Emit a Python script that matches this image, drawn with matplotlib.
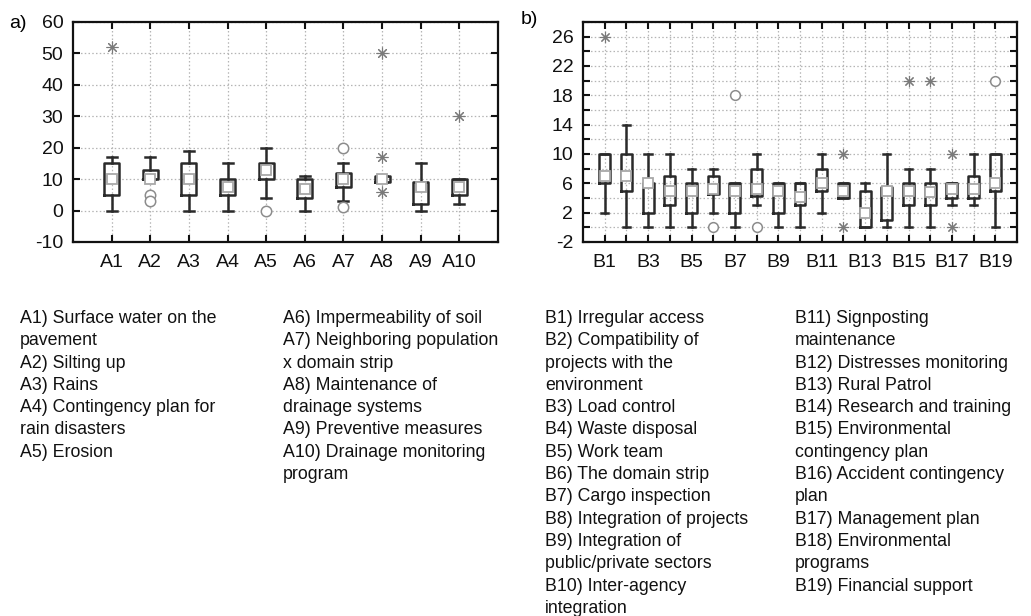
import matplotlib
matplotlib.use("Agg")
import matplotlib.pyplot as plt

plt.rcParams['font.family'] = ['Liberation Sans', 'DejaVu Sans']
plt.rcParams['axes.unicode_minus'] = False

W, H = 1031, 616

# ---------------- data: panel a ----------------
a_labels = ["A1", "A2", "A3", "A4", "A5", "A6", "A7", "A8", "A9", "A10"]
a_q1 = [5, 10, 5, 5, 10, 4, 7.5, 9, 2, 5]
a_med = [10, 10, 10, 7.5, 13, 7, 10, 10, 7.5, 7.5]
a_q3 = [15, 13, 15, 10, 15, 10, 12, 11, 9, 10]
a_wlo = [0, 10, 0, 0, 4, 0, 3, 9, 0, 2]
a_whi = [17, 17, 19, 15, 20, 11, 15, 11, 15, 10]
a_outliers = [[], [5, 3], [], [], [0], [], [20, 1], [], [], []]
a_extremes = [[52], [], [], [], [], [], [], [50, 17, 6], [], [30]]

# ---------------- data: panel b ----------------
b_labels = ["B%d" % i for i in range(1, 20)]
b_q1 = [6, 5, 2, 3, 2, 4.5, 2, 4.3, 2, 3, 5, 4, 0, 1, 3, 3, 4, 4, 5]
b_med = [7, 7, 6, 5, 5, 5.2, 5, 5.2, 5, 4.2, 6, 5, 2, 5, 5, 4.8, 5.2, 5.2, 6]
b_q3 = [10, 10, 6, 7, 6, 7, 6, 8, 6, 6, 8, 6, 5, 5.5, 6, 6, 6, 7, 10]
b_wlo = [2, 0, 0, 0, 0, 2, 0, 3, 0, 0, 2, 4, 0, 0, 0, 0, 3, 3, 0]
b_whi = [10, 14, 10, 10, 8, 8, 6, 10, 6, 6, 10, 6, 6, 10, 8, 8, 6, 10, 10]
b_outliers = [[], [], [], [], [], [0], [18], [0], [], [], [], [], [], [], [], [], [], [], [20]]
b_extremes = [[26], [], [], [], [], [], [], [], [], [], [], [10, 0], [], [], [20], [20], [10, 0], [], []]

# ---------------- description texts ----------------
col1 = ["A1) Surface water on the", "pavement", "A2) Silting up", "A3) Rains",
        "A4) Contingency plan for", "rain disasters", "A5) Erosion"]
col2 = ["A6) Impermeability of soil", "A7) Neighboring population", "x domain strip",
        "A8) Maintenance of", "drainage systems", "A9) Preventive measures",
        "A10) Drainage monitoring", "program"]
col3 = ["B1) Irregular access", "B2) Compatibility of", "projects with the",
        "environment", "B3) Load control", "B4) Waste disposal", "B5) Work team",
        "B6) The domain strip", "B7) Cargo inspection", "B8) Integration of projects",
        "B9) Integration of", "public/private sectors", "B10) Inter-agency", "integration"]
col4 = ["B11) Signposting", "maintenance", "B12) Distresses monitoring",
        "B13) Rural Patrol", "B14) Research and training", "B15) Environmental",
        "contingency plan", "B16) Accident contingency", "plan",
        "B17) Management plan", "B18) Environmental", "programs",
        "B19) Financial support"]

BOXC = "#2a2a2a"
MEDC = "#a8a8a8"
OUTC = "#8c8c8c"
EXTC = "#7a7a7a"
FS = 14

fig = plt.figure(figsize=(W / 100, H / 100), dpi=100)


def make_panel(rect, labels, q1, med, q3, wlo, whi, outl, extr, bw, capw, msq, mo):
    ax = fig.add_axes(rect)
    n = len(labels)
    pos = list(range(1, n + 1))
    stats = []
    for i in range(n):
        stats.append(dict(med=med[i], q1=q1[i], q3=q3[i], whislo=wlo[i],
                          whishi=whi[i], fliers=[]))
    ax.bxp(stats, positions=pos, widths=bw, showfliers=False,
           boxprops=dict(color=BOXC, linewidth=1.8),
           whiskerprops=dict(color=BOXC, linewidth=1.8),
           capprops=dict(color=BOXC, linewidth=1.8),
           medianprops=dict(linewidth=0),
           capwidths=capw, manage_ticks=False, zorder=3)
    ax.plot(pos, med, linestyle="none", marker="s", markersize=msq,
            markerfacecolor="white", markeredgecolor=MEDC, markeredgewidth=1.3,
            zorder=5)
    for i in range(n):
        if outl[i]:
            ax.plot([pos[i]] * len(outl[i]), outl[i], linestyle="none", marker="o",
                    markersize=mo, markerfacecolor="white", markeredgecolor=OUTC,
                    markeredgewidth=1.1, zorder=5)
        if extr[i]:
            ax.plot([pos[i]] * len(extr[i]), extr[i], linestyle="none",
                    marker=(8, 2, 0), markersize=mo + 1, color=EXTC,
                    markeredgewidth=0.8, zorder=5)
    ax.set_xlim(0, n + 1)
    ax.grid(True, color="#b5b5b5", linestyle=(0, (1.2, 1.8)), linewidth=0.9)
    ax.set_axisbelow(True)
    for s in ax.spines.values():
        s.set_linewidth(1.6)
        s.set_color("#111111")
    ax.tick_params(direction="in", length=5, width=1.5, top=True, right=True,
                   labelsize=FS, colors="#111111")
    ax.tick_params(axis="x", pad=9)
    ax.tick_params(axis="y", pad=7)
    return ax, pos


ax1, p1 = make_panel([73 / W, 1 - 242 / H, 425 / W, 220 / H], a_labels, a_q1, a_med,
                     a_q3, a_wlo, a_whi, a_outliers, a_extremes,
                     0.39, 0.26, 7, 7.5)
ax1.set_ylim(-10, 60)
ax1.set_yticks(range(-10, 61, 10))
ax1.set_xticks(p1)
ax1.set_xticklabels(a_labels)

ax2, p2 = make_panel([583 / W, 1 - 242 / H, 434 / W, 220 / H], b_labels, b_q1, b_med,
                     b_q3, b_wlo, b_whi, b_outliers, b_extremes,
                     0.5, 0.34, 7.5, 7)
ax2.set_ylim(-2, 28)
yt = list(range(-2, 29, 2))
ax2.set_yticks(yt)
ax2.set_yticklabels([str(v) if (v + 2) % 4 == 0 and v < 28 else "" for v in yt])
ax2.set_xticks(p2)
ax2.set_xticklabels([lab if i % 2 == 0 else "" for i, lab in enumerate(b_labels)])

fig.text(9 / W, 1 - 28 / H, "a)", fontsize=FS, ha="left", va="baseline")
fig.text(521 / W, 1 - 24 / H, "b)", fontsize=FS, ha="left", va="baseline")

# description columns
LS = 22.3
Y0 = 323
for x0, lines in [(20, col1), (283, col2), (545, col3), (795, col4)]:
    for i, t in enumerate(lines):
        fig.text(x0 / W, 1 - (Y0 + i * LS) / H, t, fontsize=12.8, ha="left",
                 va="baseline", color="#111111")

fig.savefig("out.png", dpi=100)
